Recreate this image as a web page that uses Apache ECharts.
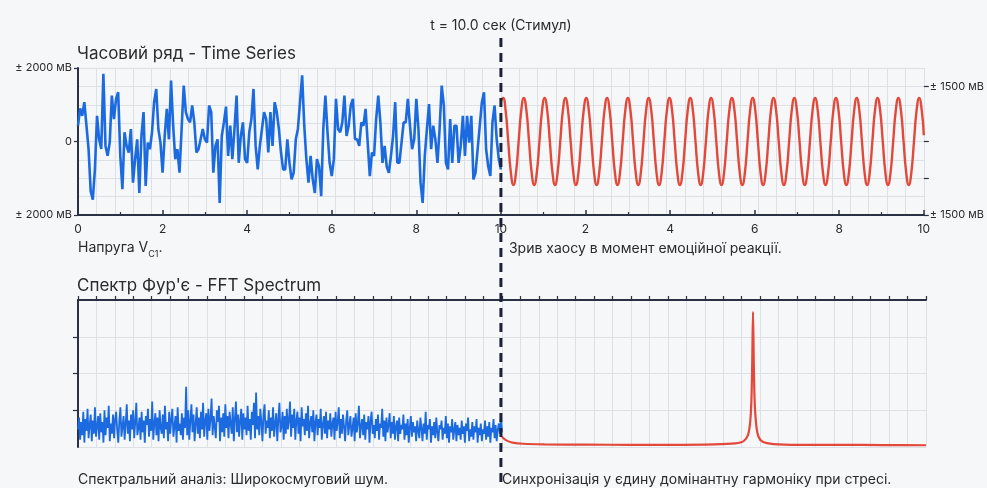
<!DOCTYPE html>
<html><head><meta charset="utf-8">
<script src="https://cdn.jsdelivr.net/npm/echarts@6/dist/echarts.min.js"></script>
<style>html,body{margin:0;padding:0;background:#f6f7f9}#c{width:987px;height:488px}</style>
</head><body><div id="c"></div>
<script>
// ---------- data ----------
// time series (blue, 0..10 s, step 0.05 s), mV
const tsStep = 0.05;
const blueTs = [
430, 900, 700, 1070, 430, -210, -1350, -1580, -760, 700,
60, -200, 1840, -120, -390, -30, 1250, 610, 1160, 1340,
-390, -1300, 250, -120, -300, 340, -1120, -480, 60, -1400,
150, 800, -1210, -30, -210, 250, 1070, 1430, 340, -30,
-850, 150, 890, 60, 1660, 430, -480, -210, -850, 340,
1520, 800, 610, 520, 980, 520, -300, -210, 60, 340,
60, -30, 980, 800, -850, -120, 60,
-1670, 150, 520, 950, -390, 430, -480, 340, 1250, -580,
150, 520, -480, -580, 250, 610, 1430, -120, -760, -120,
340, 800, 610, -300, 800, -120, 1070, 800, 340, -300,
-760, -760, 60, -580, -1030, -850, 60, 340, 1070, 1800,
430, -480, -1120, -390, -1030, -1400, -480, -680, -1490, 340,
1250, 250, -580, -940, -480, 1160, 340, 250, 520, 1250,
150, 430, 980, 1160, 60, 60, -120,
520, 430, 890, -30, -940, -300, -390, 610, 1250, 520,
-580, -120, -680, -850, -390, 150, 1070, -580, -580, -30,
520, 520, 1160, 430, -210, 60, 1160, 340, -1120, -1670,
-390, 340, 1020, -210, 430, 60, -580, 340, 1520, 980,
-580, -760, 610, -580, 430, 430, -580, -120, 700, -390,
700, -30, 700, -1030, -850, -210, 430, 1070, 1340, -210,
-680, -940, 520, 980, 60, -480, -760
];
// time series (red, after stimulus), mV; first point at t=10, then samples every redStep from redStart, last at t=20
const redTsFirst = 1100;
const redStart = 10.05;
const redStep = 0.0615;
const redTs = [
1185, 838, 0, -838, -1185, -838, 0, 838,
1185, 838, 0, -838, -1185, -838, 0, 838,
1185, 838, 0, -838, -1185, -838, 0, 838,
1185, 838, 0, -838, -1185, -838, 0, 838,
1185, 838, 0, -838, -1185, -838, 0, 838,
1185, 838, 0, -838, -1185, -838, 0, 838,
1185, 838, 0, -838, -1185, -838, 0, 838,
1185, 838, 0, -838, -1185, -838, 0, 838,
1185, 838, 0, -838, -1185, -838, 0, 838,
1185, 838, 0, -838, -1185, -838, 0, 838,
1185, 838, 0, -838, -1185, -838, 0, 838,
1185, 838, 0, -838, -1185, -838, 0, 838,
1185, 838, 0, -838, -1185, -838, 0, 838,
1185, 838, 0, -838, -1185, -838, 0, 838,
1185, 838, 0, -838, -1185, -838, 0, 838,
1185, 838, 0, -838, -1185, -838, 0, 838,
1185, 838, 0, -838, -1185, -838, 0, 838,
1185, 838, 0, -838, -1185, -838, 0, 838,
1185, 838, 0, -838, -1185, -838, 0, 838,
1185, 838, 0, -838, -1185, -838, 0, 838,
1185, 838
];
const redTsLast = 170;

// FFT spectrum (blue, broadband noise), step 0.025 on 0..10
const fftStep = 0.025;
const blueFft = [
12,20,5,17,8,24,3,19,11,26,6,15,22,4,18,9,27,7,14,21,
5,23,10,17,3,25,8,20,13,28,4,16,9,22,6,19,24,11,3,18,
27,7,14,21,5,16,29,9,18,4,22,12,25,6,17,30,8,13,20,5,
24,10,18,3,21,15,26,7,19,11,31,5,16,23,8,20,4,25,13,9,
22,6,28,12,17,4,24,9,19,26,7,14,21,3,27,11,16,8,23,5,
20,13,41,8,25,5,18,29,10,22,4,16,27,9,20,6,24,12,30,7,
18,23,5,26,11,19,33,8,21,14,6,25,17,28,4,20,10,23,7,29,
13,21,6,24,16,9,27,4,19,31,10,22,7,18,26,5,23,12,20,8,
28,11,19,5,24,15,30,6,37,12,21,8,26,17,4,22,29,9,18,13,
25,6,20,11,27,7,16,23,4,19,30,10,14,24,5,21,9,26,12,18,
31,7,22,13,26,5,18,24,9,20,4,27,14,19,8,23,11,28,6,16,
21,10,25,4,17,22,8,19,13,26,5,15,21,9,24,6,18,12,23,7,
16,20,5,24,11,17,27,6,19,9,22,14,4,18,25,8,15,21,7,13,
20,4,23,10,16,28,6,14,19,8,22,5,17,12,21,3,18,24,9,15,
6,19,11,22,5,16,13,26,7,18,4,20,10,15,23,6,17,9,21,5,
14,18,4,20,9,15,12,22,5,16,8,19,3,13,21,7,17,10,14,4,
18,11,6,20,13,4,16,9,24,5,15,12,19,3,14,8,17,6,20,10,
4,15,12,18,5,13,9,21,6,16,3,14,10,19,5,12,17,4,15,8,
13,5,18,9,14,3,16,11,20,4,12,7,17,5,14,10,19,3,13,8,
16,4,12,9,18,5,14,7,17,3,13,10,19,6,15,4,12,16,9,21,
10
];
// FFT spectrum (red, single dominant harmonic)
const redFftF = [10, 10.1, 10.25, 10.5, 11, 12, 13, 14, 15, 15.5, 15.7, 15.8, 15.85, 15.88, 15.9, 15.92, 15.94, 15.96, 16, 16.05, 16.15, 16.4, 17, 18, 19, 20];
const redFftA = [7, 4.5, 3, 2.2, 1.8, 1.6, 1.5, 1.5, 1.8, 2.5, 4, 8, 16, 30, 55, 92, 55, 30, 14, 7, 3.5, 2, 1.5, 1.5, 1.3, 1.2];

// tick labels
const topXTicks = [0, 2, 4, 6, 8, 10, 12, 14, 16, 18, 20];
const topXLabels = ['0', '2', '4', '6', '8', '10', '2', '4', '6', '8', '10'];
const leftYTicks = [2000, 0, -2000];
const leftYLabels = ['± 2000 мВ', '0', '± 2000 мВ'];
const rightYTicks = [1500, 0, -1000, -2000];
const rightYLabelVals = [1500, -2000];
const rightYLabels = ['± 1500 мВ', '± 1500 мВ'];
const stimulusT = 10;

// texts
const titleTop = 'Часовий ряд - Time Series';
const titleBottom = "Спектр Фур'є - FFT Spectrum";
const stimulusLabel = 't = 10.0 сек (Стимул)';
const capTL = '{a|Напруга V}{s|C1}{a|.}';
const capTR = 'Зрив хаосу в момент емоційної реакції.';
const capBL = 'Спектральний аналіз: Широкосмуговий шум.';
const capBR = 'Синхронізація у єдину домінантну гармоніку при стресі.';

// ---------- chart ----------
const FONT = 'Inter, "Noto Sans", sans-serif';
const TXT = '#2b2b2b';
const GRIDC = '#dde1e6';
const AXC = '#2a3142';
const BLUE = '#1c6ae0';
const RED = '#e2493b';

const blueTsData = blueTs.map((v, i) => [i * tsStep, v]);
const redTsData = [[stimulusT, redTsFirst]].concat(redTs.map((v, i) => [redStart + i * redStep, v]), [[20, redTsLast]]);
const blueFftData = blueFft.map((v, i) => [i * fftStep, v]);
const redFftData = redFftF.map((f, i) => [f, redFftA[i]]);

const chart = echarts.init(document.getElementById('c'), null, {renderer: 'canvas'});
const gTop = {left: 78, right: 61, top: 68, height: 147};
const gBot = {left: 78, right: 61, top: 300, height: 147};

chart.setOption({
  animation: false,
  backgroundColor: '#f6f7f9',
  textStyle: {fontFamily: FONT},
  grid: [gTop, gBot],
  xAxis: [
    { // 0 top visible axis
      type: 'value', gridIndex: 0, min: 0, max: 20, interval: 2,
      axisLine: {show: true, onZero: false, lineStyle: {color: AXC, width: 2}},
      axisTick: {show: true, length: 5, inside: true, lineStyle: {color: AXC, width: 1.5}},
      minorTick: {show: true, splitNumber: 2, length: 3, lineStyle: {color: AXC, width: 1.2}},
      axisLabel: {show: true, color: TXT, fontSize: 12, fontFamily: FONT, margin: 8,
        formatter: v => { const i = topXTicks.indexOf(v); return i >= 0 ? topXLabels[i] : ''; }},
      splitLine: {show: false}
    },
    { // 1 top grid lines
      type: 'value', gridIndex: 0, min: 0, max: 46, interval: 1,
      axisLine: {show: false, onZero: false}, axisTick: {show: false}, axisLabel: {show: false},
      splitLine: {show: true, lineStyle: {color: GRIDC, width: 1}}
    },
    { // 2 fft data axis
      type: 'value', gridIndex: 1, min: 0, max: 20, show: false
    },
    { // 3 fft visible axis + grid
      type: 'value', gridIndex: 1, min: 0, max: 46, interval: 1,
      axisLine: {show: true, onZero: false, lineStyle: {color: AXC, width: 2}},
      axisTick: {show: true, length: 4, lineStyle: {color: AXC, width: 1.2}},
      axisLabel: {show: false},
      splitLine: {show: true, lineStyle: {color: GRIDC, width: 1}}
    }
  ],
  yAxis: [
    { // 0 top left
      type: 'value', gridIndex: 0, min: -2000, max: 2000,
      axisLine: {show: true, onZero: false, lineStyle: {color: AXC, width: 2}},
      axisTick: {show: true, length: 4, customValues: leftYTicks, lineStyle: {color: AXC, width: 1.2}},
      axisLabel: {show: true, customValues: leftYTicks, color: TXT, fontSize: 11, fontFamily: FONT, margin: 6,
        formatter: v => { const i = leftYTicks.indexOf(v); return i >= 0 ? leftYLabels[i] : ''; }},
      splitLine: {show: false}
    },
    { // 1 top right
      type: 'value', gridIndex: 0, min: -2000, max: 2000, position: 'right',
      axisLine: {show: false, onZero: false},
      axisTick: {show: true, length: 5, customValues: rightYTicks, lineStyle: {color: AXC, width: 1.2}},
      axisLabel: {show: true, customValues: rightYLabelVals, color: TXT, fontSize: 11, fontFamily: FONT, margin: 6,
        formatter: v => { const i = rightYLabelVals.indexOf(v); return i >= 0 ? rightYLabels[i] : ''; }},
      splitLine: {show: false}
    },
    { // 2 top grid lines
      type: 'value', gridIndex: 0, min: -2000, max: 2000, interval: 500,
      axisLine: {show: false, onZero: false}, axisTick: {show: false}, axisLabel: {show: false},
      splitLine: {show: true, lineStyle: {color: GRIDC, width: 1}}
    },
    { // 3 fft left
      type: 'value', gridIndex: 1, min: 0, max: 100,
      axisLine: {show: true, onZero: false, lineStyle: {color: AXC, width: 2}},
      axisTick: {show: true, length: 5, customValues: [25, 50, 75], lineStyle: {color: AXC, width: 1.2}},
      axisLabel: {show: false},
      splitLine: {show: false}
    },
    { // 4 fft grid lines
      type: 'value', gridIndex: 1, min: 0, max: 100, interval: 25,
      axisLine: {show: false, onZero: false}, axisTick: {show: false}, axisLabel: {show: false},
      splitLine: {show: true, lineStyle: {color: GRIDC, width: 1}}
    }
  ],
  series: [
    {type: 'line', xAxisIndex: 0, yAxisIndex: 0, data: blueTsData, showSymbol: false, z: 3,
      lineStyle: {color: BLUE, width: 2.6}},
    {type: 'line', xAxisIndex: 0, yAxisIndex: 0, data: redTsData, showSymbol: false, smooth: true, z: 3,
      lineStyle: {color: RED, width: 2.4}},
    {type: 'line', xAxisIndex: 2, yAxisIndex: 3, data: blueFftData, showSymbol: false, z: 3,
      lineStyle: {color: BLUE, width: 1.8}},
    {type: 'line', xAxisIndex: 2, yAxisIndex: 3, data: redFftData, showSymbol: false, smooth: 0.3, z: 3,
      lineStyle: {color: RED, width: 2.2}}
  ]
});

const sx = chart.convertToPixel({xAxisIndex: 0}, stimulusT);
const txt = (left, top, text, size, extra) => Object.assign({type: 'text', left: left, top: top, z: 10,
  style: {text: text, fill: TXT, font: size + 'px ' + FONT}}, extra || {});
chart.setOption({
  graphic: [
    txt(77, 45, titleTop, 17),
    txt(77, 277, titleBottom, 17),
    {type: 'text', x: sx, y: 26, z: 10, style: {text: stimulusLabel, fill: TXT, font: '14px ' + FONT, align: 'center', verticalAlign: 'middle'}},
    {type: 'text', left: 78, top: 241, z: 10, style: {text: capTL, fill: TXT,
      rich: {a: {fontSize: 14, fontFamily: FONT, fill: TXT, lineHeight: 18, verticalAlign: 'bottom'},
             s: {fontSize: 9, fontFamily: FONT, fill: TXT, lineHeight: 18, verticalAlign: 'bottom', padding: [0, 0, -4, 0]}}}},
    txt(sx + 8, 242, capTR, 14),
    txt(78, 473, capBL, 14),
    txt(sx + 1, 473, capBR, 14),
    {type: 'line', z: 20, shape: {x1: sx, y1: 38, x2: sx, y2: 488},
      style: {stroke: '#1b2238', lineWidth: 3, lineDash: [9, 6]}}
  ]
});
</script>
</body></html>
